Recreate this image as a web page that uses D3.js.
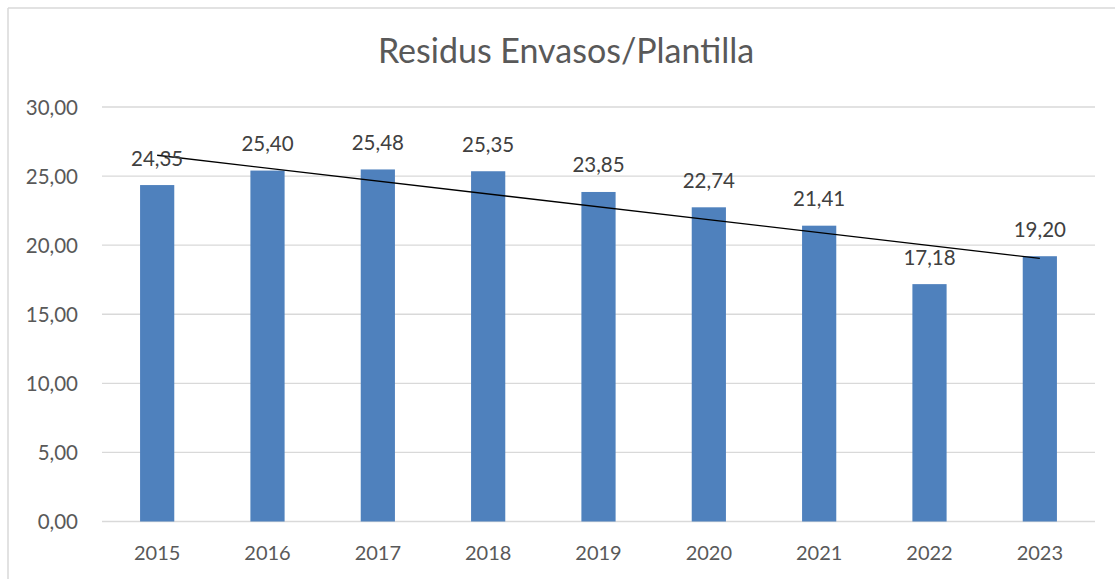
<!DOCTYPE html>
<html>
<head>
<meta charset="utf-8">
<script src="https://cdn.jsdelivr.net/npm/d3@7"></script>
<style>
  html, body { margin: 0; padding: 0; background: #fff; }
  svg { display: block; }
  text { font-family: Lato, "Open Sans", sans-serif; }
</style>
</head>
<body>
<svg id="chart" width="1115" height="579"></svg>
<script>
const title = "Residus Envasos/Plantilla";
const years = ["2015", "2016", "2017", "2018", "2019", "2020", "2021", "2022", "2023"];
const values = [24.35, 25.40, 25.48, 25.35, 23.85, 22.74, 21.41, 17.18, 19.20];
const yTicks = [0, 5, 10, 15, 20, 25, 30];

const svg = d3.select("#chart");
const W = 1115, H = 579;
const plot = { left: 102, right: 1095, top: 107, bottom: 521.5 };

const fmt = v => d3.format(".2f")(v).replace(".", ",");

// chart border (left and top visible)
svg.append("line").attr("x1", 8).attr("x2", 8).attr("y1", 8).attr("y2", H)
  .attr("stroke", "#D9D9D9").attr("stroke-width", 1.5);
svg.append("line").attr("x1", 8).attr("x2", W).attr("y1", 8).attr("y2", 8)
  .attr("stroke", "#D9D9D9").attr("stroke-width", 1.5);

const x = d3.scaleBand().domain(years).range([plot.left, plot.right]).padding(0);
const y = d3.scaleLinear().domain([0, 30]).range([plot.bottom, plot.top]);
const barW = x.step() * 0.31;

// gridlines
svg.append("g").selectAll("line").data(yTicks).join("line")
  .attr("x1", plot.left).attr("x2", plot.right)
  .attr("y1", d => y(d)).attr("y2", d => y(d))
  .attr("stroke", "#D9D9D9").attr("stroke-width", 1.3);

// y tick labels
svg.append("g").selectAll("text").data(yTicks).join("text")
  .attr("x", 78).attr("y", d => y(d) + 7.5)
  .attr("text-anchor", "end").attr("font-size", 20.5).attr("fill", "#595959")
  .text(d => fmt(d));

// x labels
svg.append("g").selectAll("text").data(years).join("text")
  .attr("x", d => x(d) + x.bandwidth() / 2).attr("y", 560)
  .attr("text-anchor", "middle").attr("font-size", 20).attr("fill", "#595959")
  .text(d => d);

// bars
svg.append("g").selectAll("rect").data(values).join("rect")
  .attr("x", (d, i) => x(years[i]) + x.bandwidth() / 2 - barW / 2)
  .attr("width", barW)
  .attr("y", d => y(d))
  .attr("height", d => y(0) - y(d))
  .attr("fill", "#4F81BD");

// trendline (linear regression)
const n = values.length;
const xs = d3.range(1, n + 1);
const mx = d3.mean(xs), my = d3.mean(values);
const slope = d3.sum(xs, (xi, i) => (xi - mx) * (values[i] - my)) / d3.sum(xs, xi => (xi - mx) ** 2);
const icpt = my - slope * mx;
const cx = i => x(years[i]) + x.bandwidth() / 2;
svg.append("line")
  .attr("x1", cx(0)).attr("y1", y(icpt + slope * 1))
  .attr("x2", cx(n - 1)).attr("y2", y(icpt + slope * n))
  .attr("stroke", "#000").attr("stroke-width", 1.3);

// data labels
svg.append("g").selectAll("text").data(values).join("text")
  .attr("x", (d, i) => cx(i)).attr("y", d => y(d) - 19.5)
  .attr("text-anchor", "middle").attr("font-size", 20.5).attr("fill", "#404040")
  .text(d => fmt(d));

// title
svg.append("text").attr("x", 566).attr("y", 63)
  .attr("text-anchor", "middle").attr("font-size", 34).attr("fill", "#595959")
  .text(title);
</script>
</body>
</html>
